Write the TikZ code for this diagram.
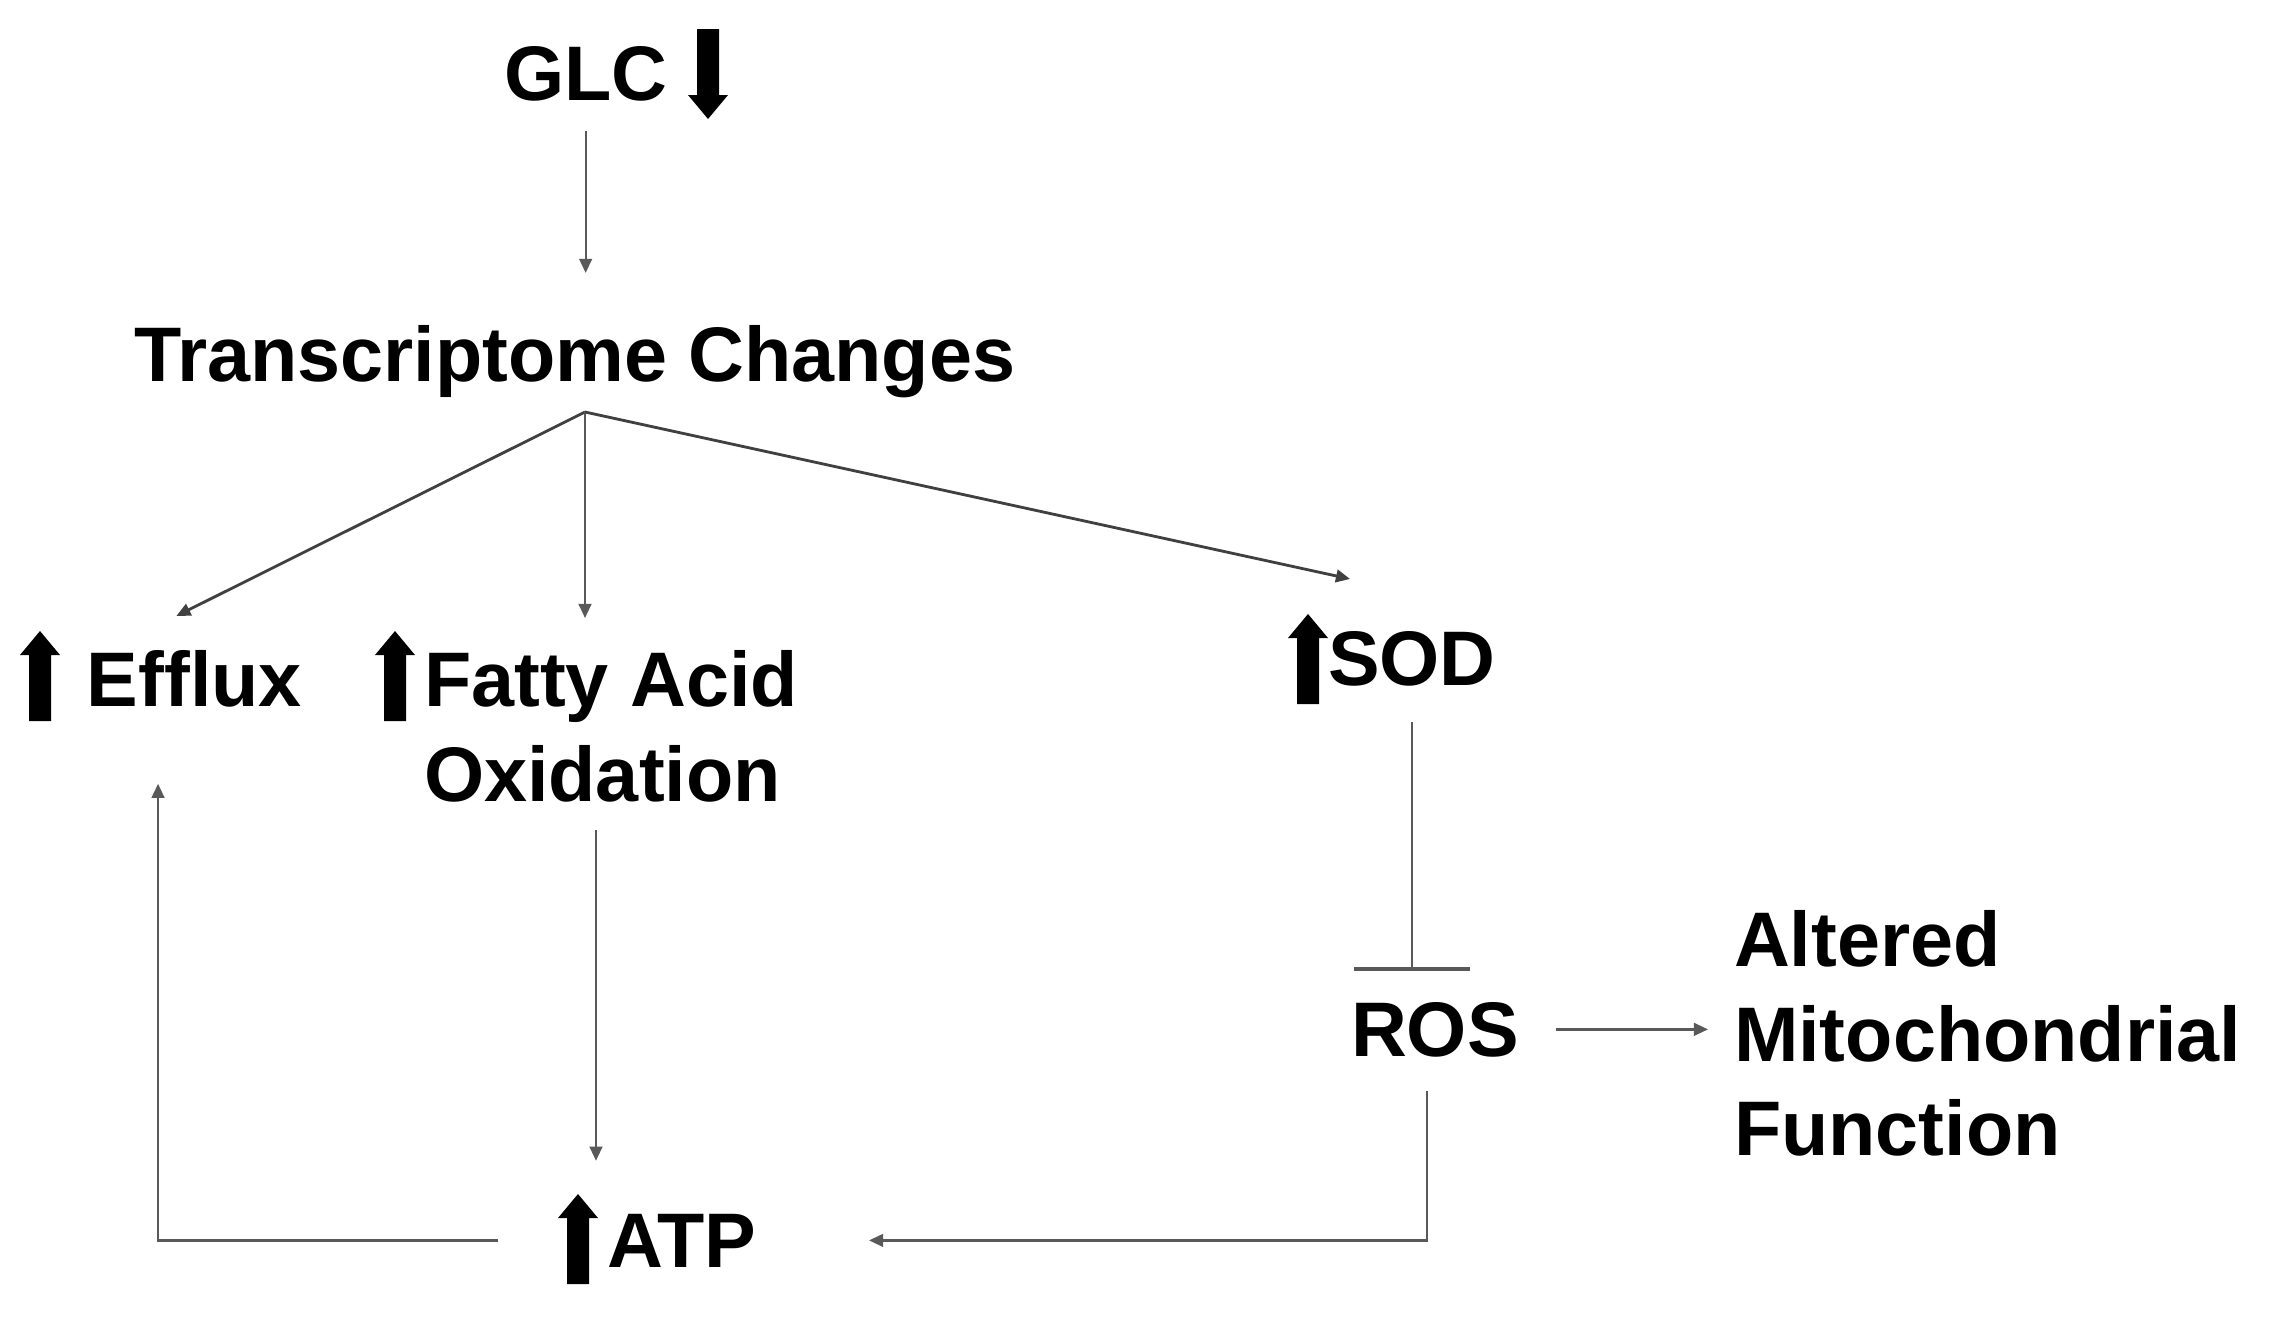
\documentclass[tikz,border=0pt]{standalone}
\usepackage{fontspec}
\setmainfont{Liberation Sans}
\usetikzlibrary{arrows.meta,calc}
\tikzset{
  lbl/.style={inner sep=0pt, outer sep=0pt, font=\bfseries\fontsize{22}{27}\selectfont, align=left},
  conn/.style={draw=black!65, line width=0.65pt},
  arr/.style={conn, -{Triangle[length=4pt,width=3.6pt]}},
  brarr/.style={arr, draw=black!75, line width=0.8pt},
  inh/.style={conn, -{Bar[width=33pt,line width=1.1pt]}},
  bigup/.pic={\fill[black] (-11,0) -- (11,0) -- (11,-66) -- (20,-66) -- (0,-90) -- (-20,-66) -- (-11,-66) -- cycle;}
}
\begin{document}
\begin{tikzpicture}[x=0.01cm,y=-0.01cm]
\useasboundingbox[fill=white] (0,0) rectangle (2272,1336);
% nodes
\node[lbl, anchor=base west] (GLC) at (504,100) {GLC};
\node[lbl, anchor=base west] (TC) at (134,381) {Transcriptome Changes};
\node[lbl, anchor=base west] (EF) at (87,706) {Efflux};
\node[lbl, anchor=north west] (FA) at (424,650) {Fatty Acid\\Oxidation};
\node[lbl, anchor=base west] (SOD) at (1328,685) {SOD};
\node[lbl, anchor=base west] (ROS) at (1351,1056) {ROS};
\node[lbl, anchor=base west] (ATP) at (607,1267) {ATP};
\node[lbl, anchor=north west] (AMF) at (1734,910) {Altered\\Mitochondrial\\Function};
\coordinate (B) at (585,412);
% bold up/down arrows
\pic[yscale=-1] at (708,29) {bigup};
\pic at (40,721) {bigup};
\pic at (395,721) {bigup};
\pic at (1308,704) {bigup};
\pic at (578,1284) {bigup};
% connectors
\draw[arr] ([yshift=-0.3cm]GLC.south) -- ([yshift=0.52cm]GLC.south |- TC.north);
\draw[brarr] (B) -- ([xshift=-0.18cm,yshift=0.34cm]EF.north);
\draw[arr] (B) -- ([yshift=0.32cm]B |- FA.north);
\draw[brarr] (B) -- ([xshift=0.22cm,yshift=0.52cm]SOD.north west);
\draw[inh] ([yshift=-0.36cm]SOD.south) -- ([yshift=0.31cm]SOD.south |- ROS.north);
\draw[arr] ([xshift=0.37cm]ROS.east) -- ([xshift=-0.26cm]ROS.east -| AMF.west);
\draw[arr] ([xshift=-0.15cm,yshift=-0.28cm]FA.south) -- ([xshift=-0.15cm,yshift=0.53cm]FA.south |- ATP.north);
\draw[arr] ([xshift=-1.09cm]ATP.west) -| ([xshift=0.71cm,yshift=-0.77cm]EF.south west);
\draw[arr] ([xshift=-0.08cm,yshift=-0.34cm]ROS.south) |- ([xshift=1.13cm]ATP.east);
\end{tikzpicture}
\end{document}
